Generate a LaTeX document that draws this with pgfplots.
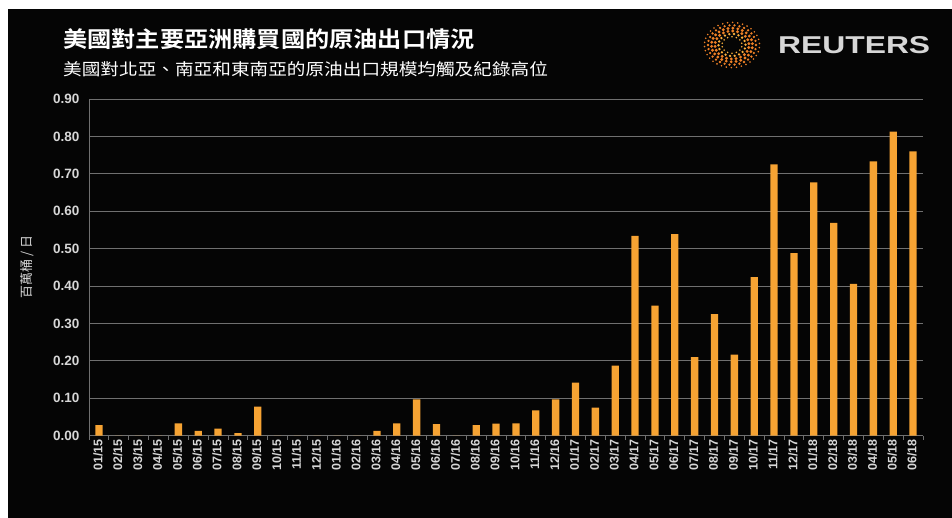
\documentclass[border=0pt]{standalone}
\usepackage{pgfplots}
\pgfplotsset{compat=1.18}
\usepackage{fontspec}
\setmainfont{Liberation Sans}
\newfontfamily\cjk{Noto Sans CJK TC}
\newfontfamily\cjkb{Noto Sans CJK TC}[UprightFont=* Bold]
\definecolor{bgblack}{RGB}{5,5,5}
\definecolor{barorange}{RGB}{246,163,51}
\definecolor{gridgray}{RGB}{112,112,112}
\definecolor{labgray}{RGB}{215,215,215}
\definecolor{logoorange}{RGB}{238,128,38}
\definecolor{logoyellow}{RGB}{250,175,60}
\begin{document}
\begin{tikzpicture}[x=1pt,y=1pt]
\fill[white] (0,0) rectangle (952,518);
\fill[bgblack] (8,0) rectangle (952,509);
% titles
\node[anchor=west,text=white,inner sep=0] at (63,479) {\scalebox{1.1}[1]{\cjkb\fontsize{22}{24}\selectfont 美國對主要亞洲購買國的原油出口情況}};
\node[anchor=west,text=white,inner sep=0] at (63,449) {\scalebox{1.13}[1]{\cjk\fontsize{16.5}{18}\selectfont 美國對北亞、南亞和東南亞的原油出口規模均觸及紀錄高位}};
% logo
\begin{scope}[shift={(732,473)}]
\foreach \r/\n/\d/\c in {10/14/0.9/logoyellow,13.5/18/1.3/logoyellow,17/22/1.6/logoorange,20.5/26/1.6/logoorange,24/30/1.3/logoorange,27.5/34/0.9/logoorange}{
  \foreach \k in {1,...,\n}{
    \fill[\c] ({\r*cos(360*\k/\n+9*\r)},{0.82*\r*sin(360*\k/\n+9*\r)}) circle (\d);
  }
}
\end{scope}
\node[anchor=west,text=labgray,inner sep=0] at (778,473) {\resizebox{152pt}{17pt}{\bfseries REUTERS}};
\begin{axis}[
  at={(89pt,82.3pt)}, anchor=south west,
  scale only axis, width=834pt, height=336.7pt,
  xmin=-0.5, xmax=41.5, ymin=0, ymax=0.9,
  ybar, bar width=7.3pt,
  axis x line*=bottom, axis y line*=left,
  axis line style={draw=gridgray, line width=1pt},
  ymajorgrids, grid style={draw=gridgray, line width=1pt},
  ytick={0,0.1,0.2,0.3,0.4,0.5,0.6,0.7,0.8,0.9},
  /pgf/number format/assume math mode=true,
  yticklabel style={/pgf/number format/fixed, /pgf/number format/fixed zerofill, /pgf/number format/precision=2,
    font=\fontsize{13.5}{14}\selectfont\bfseries, text=labgray, xshift=-6pt},
  xtick={0,...,41},
  xticklabels={01/15,02/15,03/15,04/15,05/15,06/15,07/15,08/15,09/15,10/15,11/15,12/15,
    01/16,02/16,03/16,04/16,05/16,06/16,07/16,08/16,09/16,10/16,11/16,12/16,
    01/17,02/17,03/17,04/17,05/17,06/17,07/17,08/17,09/17,10/17,11/17,12/17,
    01/18,02/18,03/18,04/18,05/18,06/18},
  xticklabel style={rotate=90, anchor=east, font=\fontsize{12.5}{13}\selectfont\bfseries, text=labgray, yshift=1pt},
  minor xtick={-0.5,0.5,...,41.5},
  major tick length=0pt, minor tick length=4pt, tick align=outside,
  tick style={draw=gridgray, line width=0.8pt},
  ylabel={\cjk 百萬桶 / 日},
  every axis y label/.style={at={(axis description cs:0,0.5)}, xshift=-62pt, rotate=90, anchor=center,
    font=\fontsize{13}{14}\selectfont, text=labgray},
  clip=false,
]
\addplot[fill=barorange, draw=none] table {
x y
0 0.028
1 0
2 0
3 0
4 0.033
5 0.013
6 0.019
7 0.007
8 0.078
9 0
10 0
11 0
12 0
13 0
14 0.013
15 0.033
16 0.097
17 0.031
18 0
19 0.028
20 0.032
21 0.033
22 0.068
23 0.097
24 0.142
25 0.075
26 0.187
27 0.534
28 0.348
29 0.539
30 0.210
31 0.325
32 0.217
33 0.424
34 0.725
35 0.488
36 0.677
37 0.569
38 0.406
39 0.733
40 0.813
41 0.760
};
\end{axis}
\end{tikzpicture}
\end{document}
